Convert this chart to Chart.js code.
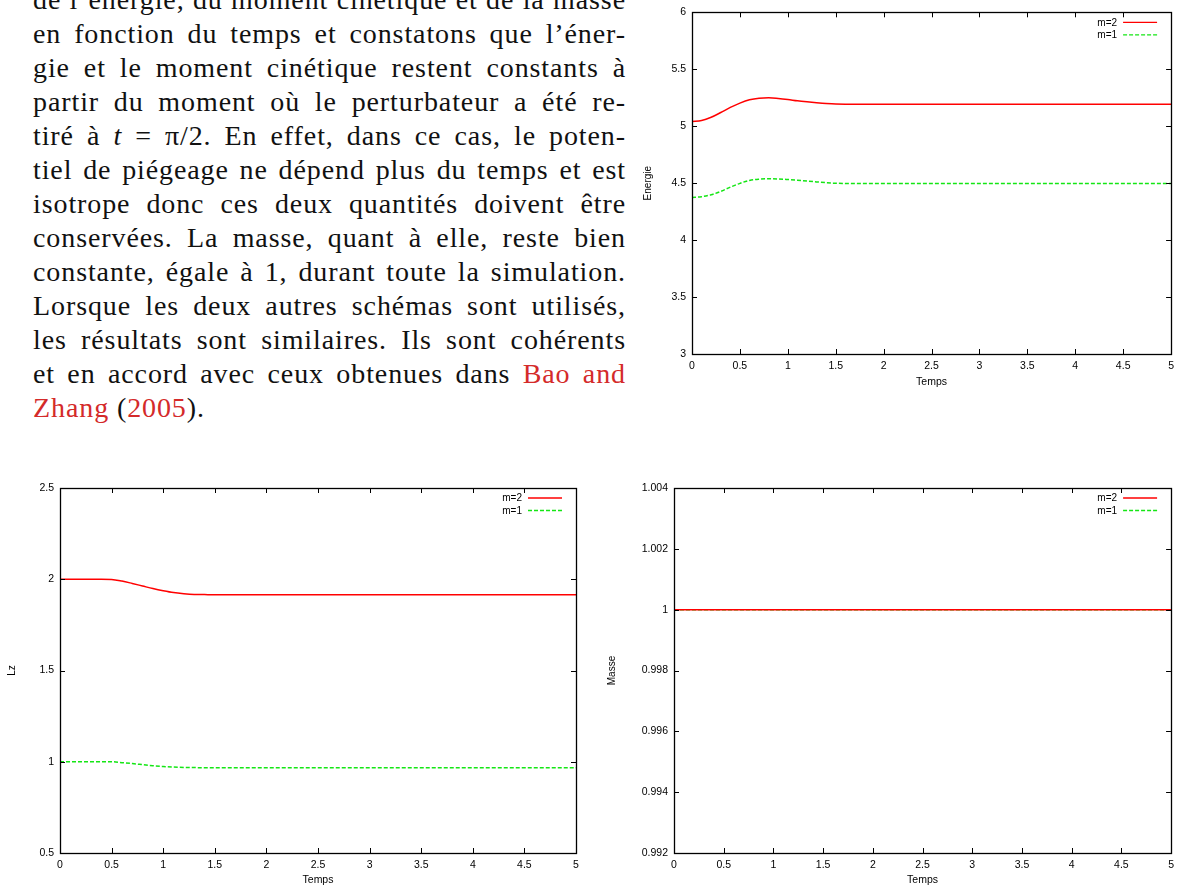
<!DOCTYPE html>
<html>
<head>
<meta charset="utf-8">
<script src="https://cdn.jsdelivr.net/npm/chart.js@4.4.0/dist/chart.umd.min.js"></script>
<style>
  html, body { margin: 0; padding: 0; background: #fff; overflow: hidden; }
  body { width: 1180px; height: 886px; position: relative; }
  #texte {
    position: absolute; left: 33px; top: -17px; width: 593px;
    font-family: "Liberation Serif", "DejaVu Serif", serif;
    font-size: 28px; line-height: 34px; color: #111; letter-spacing: 0.9px;
  }
  #texte div { white-space: nowrap; text-align: justify; text-align-last: justify; }
  #texte.mesure div { text-align-last: left; }
  #texte div.fin { text-align-last: left; }
  .ref { color: #d42a2a; }
  canvas { position: absolute; }
</style>
</head>
<body>
<div id="texte" class="mesure">
  <div><span>de l’énergie, du moment cinétique et de la masse</span></div>
  <div><span>en fonction du temps et constatons que l’éner-</span></div>
  <div><span>gie et le moment cinétique restent constants à</span></div>
  <div><span>partir du moment où le perturbateur a été re-</span></div>
  <div><span>tiré à <i>t</i> = π/2. En effet, dans ce cas, le poten-</span></div>
  <div><span>tiel de piégeage ne dépend plus du temps et est</span></div>
  <div><span>isotrope donc ces deux quantités doivent être</span></div>
  <div><span>conservées. La masse, quant à elle, reste bien</span></div>
  <div><span>constante, égale à 1, durant toute la simulation.</span></div>
  <div><span>Lorsque les deux autres schémas sont utilisés,</span></div>
  <div><span>les résultats sont similaires. Ils sont cohérents</span></div>
  <div><span>et en accord avec ceux obtenues dans <span class="ref">Bao and</span></span></div>
  <div class="fin"><span><span class="ref">Zhang</span> (<span class="ref">2005</span>).</span></div>
</div>

<canvas id="energie" width="550" height="395" style="left:630px; top:0px;"></canvas>
<canvas id="lz" width="600" height="416" style="left:0px; top:470px;"></canvas>
<canvas id="masse" width="580" height="416" style="left:600px; top:470px;"></canvas>

<script>
// temps (x) commun a toutes les courbes
const temps = [0, 0.1, 0.2, 0.3, 0.4, 0.5, 0.6, 0.7, 0.8, 0.9, 1.0, 1.1, 1.2, 1.3, 1.4, 1.5, 1.6, 2, 2.5, 3, 3.5, 4, 4.5, 5];

const energieM2 = [5.042, 5.050, 5.078, 5.120, 5.165, 5.203, 5.232, 5.246, 5.249, 5.243, 5.234, 5.223, 5.214, 5.206, 5.199, 5.194, 5.193, 5.193, 5.193, 5.193, 5.193, 5.193, 5.193, 5.193];
const energieM1 = [4.375, 4.381, 4.398, 4.428, 4.465, 4.498, 4.524, 4.535, 4.539, 4.537, 4.532, 4.526, 4.518, 4.511, 4.504, 4.499, 4.497, 4.496, 4.496, 4.496, 4.496, 4.496, 4.496, 4.496];

const lzM2 = [2.0, 2.0, 2.0, 2.0, 2.0, 1.999, 1.990, 1.977, 1.963, 1.949, 1.937, 1.927, 1.921, 1.917, 1.916, 1.915, 1.915, 1.915, 1.915, 1.915, 1.915, 1.915, 1.915, 1.915];
const lzM1 = [1.0, 1.0, 1.0, 1.0, 1.0, 1.0, 0.995, 0.990, 0.984, 0.978, 0.974, 0.971, 0.969, 0.968, 0.967, 0.967, 0.967, 0.967, 0.967, 0.967, 0.967, 0.967, 0.967, 0.967];

const masseM2 = [1, 1, 1, 1, 1, 1, 1, 1, 1, 1, 1, 1, 1, 1, 1, 1, 1, 1, 1, 1, 1, 1, 1, 1];
const masseM1 = [1, 1, 1, 1, 1, 1, 1, 1, 1, 1, 1, 1, 1, 1, 1, 1, 1, 1, 1, 1, 1, 1, 1, 1];

const labels = ['m=2', 'm=1'];
const tempsTicks = { min: 0, max: 5, step: 0.5 };

const police = 'Liberation Sans, Arial, sans-serif';

// lignes trop longues : on resserre l'espacement des lettres
const texte = document.getElementById('texte');
texte.querySelectorAll(':scope > div').forEach(div => {
  let ls = 0.9;
  while (div.firstElementChild.getBoundingClientRect().width > 590 && ls > -1) {
    ls -= 0.1;
    div.style.letterSpacing = ls.toFixed(1) + 'px';
  }
});
texte.classList.remove('mesure');

// cadre + graduations vers l'interieur (style gnuplot) + legende en haut a droite
const gnuplotStyle = {
  id: 'gnuplotStyle',
  afterDraw(chart) {
    const ctx = chart.ctx;
    const a = chart.chartArea;
    const xs = chart.scales.x, ys = chart.scales.y;
    const len = 5;
    ctx.save();
    ctx.strokeStyle = '#000';
    ctx.lineWidth = 1;
    xs.ticks.forEach(t => {
      const px = Math.round(xs.getPixelForValue(t.value)) + 0.5;
      ctx.beginPath();
      ctx.moveTo(px, a.bottom); ctx.lineTo(px, a.bottom - len);
      ctx.moveTo(px, a.top); ctx.lineTo(px, a.top + len);
      ctx.stroke();
    });
    ys.ticks.forEach(t => {
      const py = Math.round(ys.getPixelForValue(t.value)) + 0.5;
      ctx.beginPath();
      ctx.moveTo(a.left, py); ctx.lineTo(a.left + len, py);
      ctx.moveTo(a.right, py); ctx.lineTo(a.right - len, py);
      ctx.stroke();
    });
    ctx.lineWidth = 1.3;
    ctx.strokeRect(Math.round(a.left) + 0.5, Math.round(a.top) + 0.5,
      Math.round(a.right - a.left), Math.round(a.bottom - a.top));

    ctx.font = '10px ' + police;
    ctx.textAlign = 'right';
    ctx.textBaseline = 'middle';
    chart.data.datasets.forEach((ds, i) => {
      const y = a.top + 10 + i * 12.5;
      ctx.fillStyle = '#000';
      ctx.fillText(ds.label, a.right - 54, y + 0.5);
      ctx.strokeStyle = ds.borderColor;
      ctx.lineWidth = 1.3;
      ctx.setLineDash(ds.borderDash || []);
      ctx.beginPath();
      ctx.moveTo(a.right - 48, y); ctx.lineTo(a.right - 14, y);
      ctx.stroke();
      ctx.setLineDash([]);
    });
    ctx.restore();
  }
};

function fmt(v) {
  return String(+Number(v).toFixed(4));
}

function makeChart(id, serieM2, serieM1, yMin, yMax, yStep, yTitle, geo) {
  const ctx = document.getElementById(id).getContext('2d');
  return new Chart(ctx, {
    type: 'line',
    data: {
      datasets: [
        {
          label: labels[0],
          data: temps.map((t, i) => ({ x: t, y: serieM2[i] })),
          borderColor: '#ff0000',
          borderWidth: 1.5,
          pointRadius: 0,
          cubicInterpolationMode: 'monotone'
        },
        {
          label: labels[1],
          data: temps.map((t, i) => ({ x: t, y: serieM1[i] })),
          borderColor: '#14e614',
          borderWidth: 1.5,
          borderDash: [4, 2],
          pointRadius: 0,
          cubicInterpolationMode: 'monotone'
        }
      ]
    },
    options: {
      responsive: false,
      animation: false,
      devicePixelRatio: 1,
      layout: { padding: { top: geo.top, right: geo.right, left: 0, bottom: 0 } },
      plugins: { legend: { display: false }, tooltip: { enabled: false } },
      scales: {
        x: {
          type: 'linear',
          min: tempsTicks.min,
          max: tempsTicks.max,
          grid: { display: false, drawTicks: false, tickLength: 0 },
          border: { display: false },
          ticks: {
            stepSize: tempsTicks.step,
            padding: 6,
            maxRotation: 0,
            autoSkip: false,
            color: '#000',
            font: { family: police, size: 10.5 },
            callback: v => fmt(v)
          },
          title: {
            display: true, text: 'Temps', color: '#000',
            font: { family: police, size: 10.5 },
            padding: { top: 0, bottom: geo.titleBottom }
          },
          afterFit(scale) { scale.height = geo.xHeight; }
        },
        y: {
          type: 'linear',
          min: yMin,
          max: yMax,
          grid: { display: false, drawTicks: false, tickLength: 0 },
          border: { display: false },
          ticks: {
            stepSize: yStep,
            padding: 6,
            autoSkip: false,
            color: '#000',
            font: { family: police, size: 10.5 },
            callback: v => fmt(v)
          },
          title: {
            display: true, text: yTitle, color: '#000',
            font: { family: police, size: 10 },
            padding: { top: geo.titleLeft, bottom: 0 }
          },
          afterFit(scale) { scale.width = geo.yWidth; }
        }
      }
    },
    plugins: [gnuplotStyle]
  });
}

makeChart('energie', energieM2, energieM1, 3, 6, 0.5, 'Energie',
  { top: 12, right: 4, xHeight: 41, yWidth: 62, titleLeft: 12, titleBottom: 7 });
makeChart('lz', lzM2, lzM1, 0.5, 2.5, 0.5, 'Lz',
  { top: 18, right: 24, xHeight: 33, yWidth: 60, titleLeft: 6, titleBottom: 0 });
makeChart('masse', masseM2, masseM1, 0.992, 1.004, 0.002, 'Masse',
  { top: 18, right: 4, xHeight: 33, yWidth: 74, titleLeft: 6, titleBottom: 0 });
</script>
</body>
</html>
